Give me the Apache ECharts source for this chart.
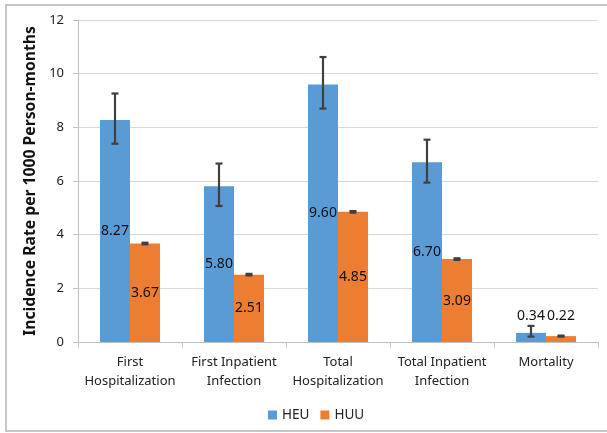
<!DOCTYPE html>
<html>
<head>
<meta charset="utf-8">
<script src="https://cdn.jsdelivr.net/npm/echarts@6/dist/echarts.min.js"></script>
<style>html,body{margin:0;padding:0;background:#fff;}#c{width:607px;height:433px;}</style>
</head>
<body>
<div id="c"></div>
<script>
const categories = ['First\nHospitalization', 'First Inpatient\nInfection', 'Total\nHospitalization', 'Total Inpatient\nInfection', 'Mortality'];
const heu = [8.27, 5.80, 9.60, 6.70, 0.34];
const huu = [3.67, 2.51, 4.85, 3.09, 0.22];
const heuLow = [7.39, 5.07, 8.70, 5.94, 0.20];
const heuHigh = [9.26, 6.65, 10.62, 7.54, 0.60];
const huuLow = [3.64, 2.48, 4.82, 3.06, 0.20];
const huuHigh = [3.70, 2.54, 4.88, 3.12, 0.24];
const yTicks = [0, 2, 4, 6, 8, 10, 12];

const BAR_W = 30;
const FONT = 'Noto Sans';

function errData(lo, hi) { return lo.map((l, i) => [i, l, hi[i]]); }
function errSeries(lo, hi, offset) {
  return {
    type: 'custom', silent: true, z: 10,
    data: errData(lo, hi),
    encode: { x: 0, y: [1, 2] },
    renderItem: function (params, api) {
      const x = api.value(0);
      const a = api.coord([x, api.value(1)]);
      const b = api.coord([x, api.value(2)]);
      const cx = a[0] + offset;
      const st = { stroke: '#404040', lineWidth: 2.2 };
      const cw = 3.5;
      return {
        type: 'group', children: [
          { type: 'line', shape: { x1: cx, y1: a[1], x2: cx, y2: b[1] }, style: st },
          { type: 'line', shape: { x1: cx - cw, y1: a[1], x2: cx + cw, y2: a[1] }, style: st },
          { type: 'line', shape: { x1: cx - cw, y1: b[1], x2: cx + cw, y2: b[1] }, style: st }
        ]
      };
    }
  };
}
function barData(vals, topDist) {
  return vals.map((v, i) => i === vals.length - 1 ? { value: v, label: { position: 'top', distance: topDist } } : v);
}

const chart = echarts.init(document.getElementById('c'), null, { renderer: 'canvas' });
chart.setOption({
  animation: false,
  backgroundColor: '#fff',
  textStyle: { fontFamily: FONT },
  graphic: [{
    type: 'rect', silent: true, z: -1,
    shape: { x: 6, y: 5, width: 620, height: 426 },
    style: { fill: 'none', stroke: '#c8c8c8', lineWidth: 2 }
  }],
  grid: { left: 78, right: 9, top: 20, bottom: 91 },
  legend: {
    data: ['HEU', 'HUU'],
    top: 403, left: 263,
    icon: 'rect', itemWidth: 9, itemHeight: 9, itemGap: 11,
    textStyle: { fontFamily: FONT, fontSize: 13.5, color: '#222' }
  },
  xAxis: {
    type: 'category', data: categories,
    axisLine: { show: true, lineStyle: { color: '#c0c0c0', width: 1 } },
    axisTick: { show: true, length: 6, lineStyle: { color: '#c0c0c0' } },
    axisLabel: { fontFamily: FONT, fontSize: 13, color: '#222', lineHeight: 19, margin: 11, interval: 0 }
  },
  yAxis: {
    type: 'value', min: 0, max: 12, interval: 2,
    name: 'Incidence Rate per 1000 Person-months',
    nameLocation: 'middle', nameGap: 33,
    nameTextStyle: { fontFamily: FONT, fontSize: 15.7, fontWeight: 'bold', color: '#111' },
    axisLine: { show: true, lineStyle: { color: '#c0c0c0', width: 1 } },
    axisTick: { show: true, length: 5, lineStyle: { color: '#c0c0c0' } },
    splitLine: { show: true, lineStyle: { color: '#d9d9d9', width: 1 } },
    axisLabel: {
      fontFamily: FONT, fontSize: 13, color: '#222', margin: 14,
      formatter: v => yTicks.includes(v) ? String(v) : ''
    }
  },
  series: [
    {
      name: 'HEU', type: 'bar', barWidth: BAR_W, barGap: '0%',
      itemStyle: { color: '#5b9bd5' },
      label: { show: true, position: 'inside', fontFamily: FONT, fontSize: 14, color: '#111', formatter: p => p.value.toFixed(2) },
      data: barData(heu, 10)
    },
    {
      name: 'HUU', type: 'bar', barWidth: BAR_W, barGap: '0%',
      itemStyle: { color: '#ed7d31' },
      label: { show: true, position: 'inside', fontFamily: FONT, fontSize: 14, color: '#111', formatter: p => p.value.toFixed(2) },
      data: barData(huu, 13)
    },
    errSeries(heuLow, heuHigh, -BAR_W / 2),
    errSeries(huuLow, huuHigh, BAR_W / 2)
  ]
});
</script>
</body>
</html>
